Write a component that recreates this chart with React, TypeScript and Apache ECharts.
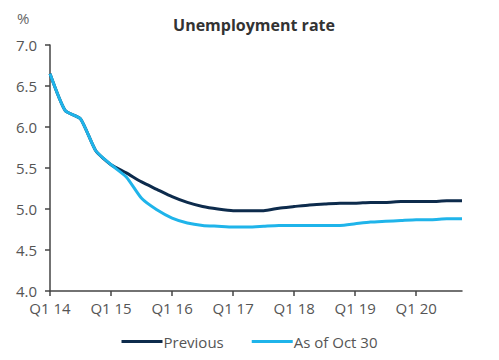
import React, { useEffect, useRef } from "react";
import * as echarts from "echarts";

const quarters: string[] = [
  "Q1 14", "Q2 14", "Q3 14", "Q4 14",
  "Q1 15", "Q2 15", "Q3 15", "Q4 15",
  "Q1 16", "Q2 16", "Q3 16", "Q4 16",
  "Q1 17", "Q2 17", "Q3 17", "Q4 17",
  "Q1 18", "Q2 18", "Q3 18", "Q4 18",
  "Q1 19", "Q2 19", "Q3 19", "Q4 19",
  "Q1 20", "Q2 20", "Q3 20", "Q4 20",
];

const previous: number[] = [
  6.65, 6.2, 6.1, 5.71,
  5.54, 5.44, 5.33, 5.24,
  5.15, 5.08, 5.03, 5.0,
  4.98, 4.98, 4.98, 5.01,
  5.03, 5.05, 5.06, 5.07,
  5.07, 5.08, 5.08, 5.09,
  5.09, 5.09, 5.1, 5.1,
];

const asOfOct30: number[] = [
  6.65, 6.2, 6.1, 5.71,
  5.54, 5.39, 5.13, 4.99,
  4.89, 4.83, 4.8, 4.79,
  4.78, 4.78, 4.79, 4.8,
  4.8, 4.8, 4.8, 4.8,
  4.82, 4.84, 4.85, 4.86,
  4.87, 4.87, 4.88, 4.88,
];

const seriesNames: string[] = ["Previous", "As of Oct 30"];
const title = "Unemployment rate";
const unit = "%";

const FONT = "'Open Sans', Lato, sans-serif";

export default function App() {
  const ref = useRef<HTMLDivElement>(null);
  useEffect(() => {
    if (!ref.current) return;
    const chart = echarts.init(ref.current, undefined, { renderer: "svg" });
    chart.setOption({
      animation: false,
      backgroundColor: "#ffffff",
      title: {
        text: title,
        left: 249,
        textAlign: "center",
        top: 12,
        textStyle: { fontFamily: FONT, fontSize: 16, fontWeight: "bold", color: "#333333" },
      },
      graphic: [
        {
          type: "text",
          left: 17,
          top: 10,
          style: { text: unit, fontFamily: FONT, fontSize: 15, fill: "#666666" },
        },
      ],
      legend: {
        bottom: 6,
        left: "center",
        icon: "rect",
        itemWidth: 41,
        itemHeight: 3,
        itemGap: 28,
        textStyle: { fontFamily: FONT, fontSize: 15, color: "#555555", padding: [0, 0, 0, -4] },
        data: seriesNames,
      },
      grid: { left: 50, right: 37, top: 45, bottom: 69, containLabel: false },
      xAxis: {
        type: "category",
        data: quarters,
        boundaryGap: false,
        axisLine: { lineStyle: { color: "#444444", width: 1.5 } },
        axisTick: { interval: 3, length: 5, lineStyle: { color: "#444444", width: 1.5 } },
        axisLabel: {
          interval: 3,
          fontFamily: FONT,
          fontSize: 15,
          color: "#555555",
          margin: 9,
        },
        splitLine: { show: false },
      },
      yAxis: {
        type: "value",
        min: 4,
        max: 7,
        interval: 0.5,
        axisLine: { show: true, lineStyle: { color: "#444444", width: 1.5 } },
        axisTick: { show: true, length: 5, lineStyle: { color: "#444444", width: 1.5 } },
        axisLabel: {
          fontFamily: FONT,
          fontSize: 15,
          color: "#555555",
          margin: 13,
          formatter: (v: number) => v.toFixed(1),
        },
        splitLine: { show: false },
      },
      series: [
        {
          name: seriesNames[0],
          type: "line",
          data: previous,
          showSymbol: false,
          smooth: 0.2,
          lineStyle: { color: "#0d2b4c", width: 3 },
          itemStyle: { color: "#0d2b4c" },
          z: 2,
        },
        {
          name: seriesNames[1],
          type: "line",
          data: asOfOct30,
          showSymbol: false,
          smooth: 0.2,
          lineStyle: { color: "#1fb4ea", width: 3 },
          itemStyle: { color: "#1fb4ea" },
          z: 3,
        },
      ],
    });
    return () => chart.dispose();
  }, []);
  return <div ref={ref} style={{ width: 499, height: 360, position: "absolute", left: 0, top: 0 }} />;
}
